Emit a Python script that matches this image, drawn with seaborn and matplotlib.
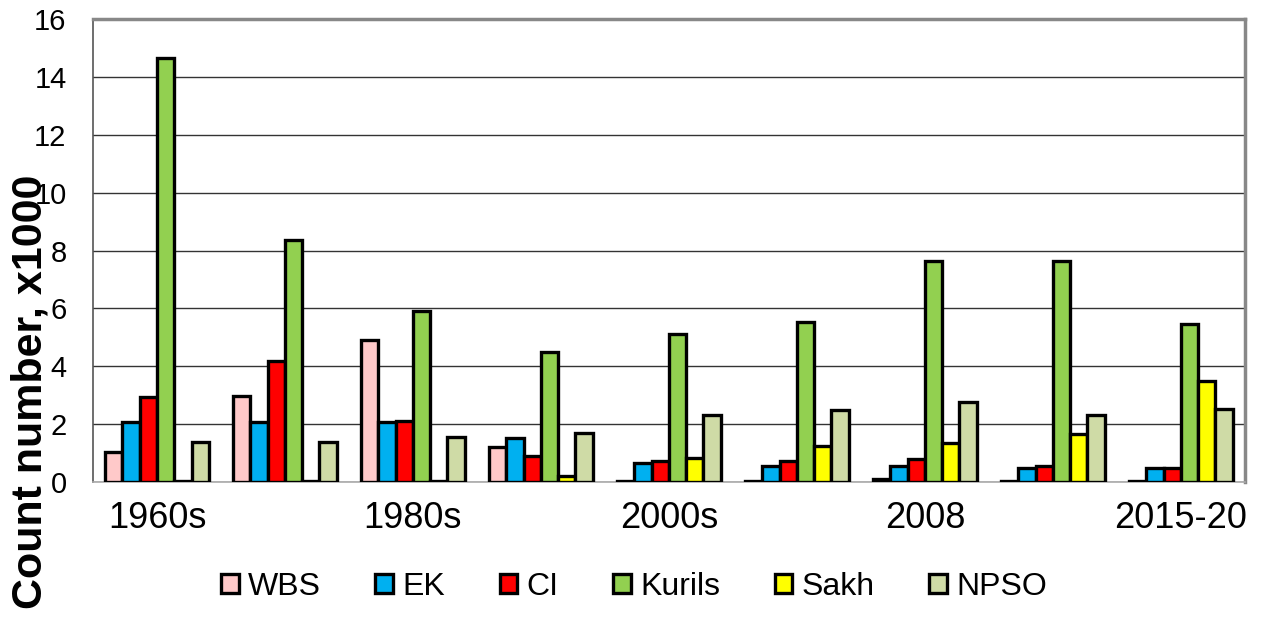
import pandas as pd
import matplotlib.pyplot as plt
import seaborn as sns

# periods (only every other one is labelled on the axis)
periods = ['1960s', '1970s', '1980s', '1990s', '2000s', '2005', '2008', '2012', '2015-20']
shown_labels = ['1960s', '', '1980s', '', '2000s', '', '2008', '', '2015-20']
regions = ['WBS', 'EK', 'CI', 'Kurils', 'Sakh', 'NPSO']

# counts, x1000
wbs = [1.03, 2.97, 4.9, 1.2, 0.03, 0.05, 0.1, 0.03, 0.03]
ek = [2.07, 2.07, 2.07, 1.52, 0.66, 0.55, 0.55, 0.48, 0.5]
ci = [2.93, 4.17, 2.1, 0.9, 0.72, 0.72, 0.79, 0.55, 0.48]
kurils = [14.65, 8.38, 5.9, 4.48, 5.1, 5.52, 7.62, 7.62, 5.45]
sakh = [0.04, 0.04, 0.04, 0.2, 0.83, 1.24, 1.34, 1.65, 3.48]
npso = [1.38, 1.38, 1.55, 1.69, 2.31, 2.48, 2.76, 2.31, 2.52]

colors = ['#FFC9C9', '#00B0F0', '#FF0000', '#92D050', '#FFFF00', '#CFDBA6']

series = [wbs, ek, ci, kurils, sakh, npso]
rows = []
for reg, vals in zip(regions, series):
    for p, v in zip(periods, vals):
        rows.append({'period': p, 'region': reg, 'count': v})
df = pd.DataFrame(rows)

sns.set_style('white')
plt.rcParams['font.family'] = ['Liberation Sans', 'DejaVu Sans']
plt.rcParams['text.color'] = 'black'
plt.rcParams['xtick.color'] = 'black'
plt.rcParams['ytick.color'] = 'black'

fig = plt.figure(figsize=(12.63, 6.17), dpi=100)
ax = fig.add_axes([0.0736, 0.2188, 0.912, 0.7504])

sns.barplot(data=df, x='period', y='count', hue='region', order=periods,
            hue_order=regions, palette=colors, saturation=1, width=0.81,
            edgecolor='black', linewidth=2.4, ax=ax, zorder=3)

ax.set_ylim(0, 16)
ax.set_yticks(range(0, 17, 2))
ax.set_xlim(-0.5, len(periods) - 0.5)
ax.set_xticks(range(len(periods)))
ax.set_xticklabels(shown_labels, fontsize=26)
ax.tick_params(axis='y', labelsize=21, length=7, width=1, color='#555555',
               labelcolor='black', direction='out', pad=12)
ax.tick_params(axis='x', length=0, pad=14, labelcolor='black')
ax.yaxis.grid(True, color='#333333', linewidth=1)
ax.set_axisbelow(True)
ax.set_xlabel('')
ax.set_ylabel('')

for side in ['top', 'right']:
    ax.spines[side].set_color('#888888')
    ax.spines[side].set_linewidth(2.5)
ax.spines['left'].set_color('#555555')
ax.spines['left'].set_linewidth(1.2)
ax.spines['bottom'].set_color('#aaaaaa')
ax.spines['bottom'].set_linewidth(1.2)

handles, labels = ax.get_legend_handles_labels()
ax.legend_.remove()
fig.legend(handles, labels, loc='center', bbox_to_anchor=(0.502, 0.049), ncol=6,
           frameon=False, fontsize=23, handlelength=0.55, handleheight=0.55,
           handletextpad=0.3, columnspacing=1.7)

fig.text(0.024, 0.365, 'Count number, x1000', rotation=90, fontsize=31,
         fontweight='bold', ha='center', va='center', color='black')

fig.savefig('out.png', dpi=100)
